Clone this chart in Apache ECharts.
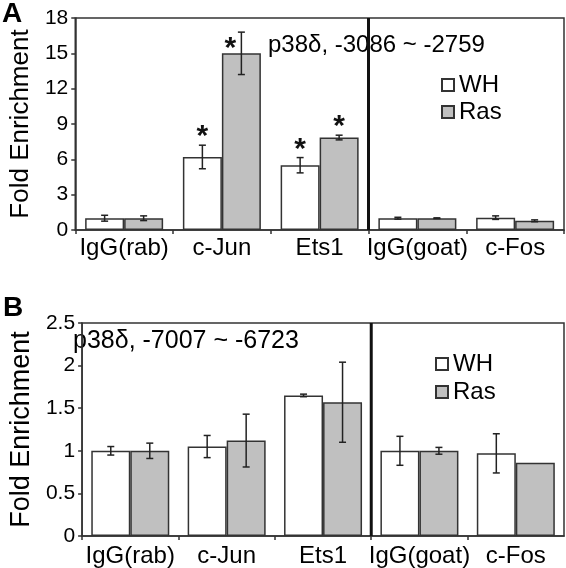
<!DOCTYPE html>
<html>
<head>
<meta charset="utf-8">
<script src="https://cdn.jsdelivr.net/npm/echarts@6/dist/echarts.min.js"></script>
<style>
html,body{margin:0;padding:0;background:#fff;}
#chart{width:566px;height:568px;}
</style>
</head>
<body>
<div id="chart"></div>
<script>
// ---- data ----
const categories = ['IgG(rab)', 'c-Jun', 'Ets1', 'IgG(goat)', 'c-Fos'];
const seriesNames = ['WH', 'Ras'];

// Panel A: p38δ, -3086 ~ -2759
const aWH     = [1.0, 6.2, 5.5, 1.0, 1.05];
const aWHErr  = [0.25, 1.0, 0.65, 0.08, 0.15];
const aRas    = [1.0, 15.0, 7.85, 1.0, 0.78];
const aRasErr = [0.2, 1.8, 0.2, 0.03, 0.08];
const aStarWH  = [false, true, true, false, false];
const aStarRas = [false, true, true, false, false];
const aTicks = { min: 0, max: 18, interval: 3 };

// Panel B: p38δ, -7007 ~ -6723
const bWH     = [1.0, 1.05, 1.65, 1.0, 0.97];
const bWHErr  = [0.05, 0.13, 0.015, 0.17, 0.23];
const bRas    = [1.0, 1.12, 1.57, 1.0, 0.86];
const bRasErr = [0.09, 0.31, 0.47, 0.04, 0];
const bStarWH  = [false, false, false, false, false];
const bStarRas = [false, false, false, false, false];
const bTicks = { min: 0, max: 2.5, interval: 0.5 };

const dividerAt = 3; // boundary between Ets1 and IgG(goat)
const titleA = 'p38\u03b4, -3086 ~ -2759';
const titleB = 'p38\u03b4, -7007 ~ -6723';

// ---- chart ----
const FONT = 'Liberation Sans, Arial, Helvetica, sans-serif';
const BAR_W = 39;
const chart = echarts.init(document.getElementById('chart'), null, { renderer: 'canvas' });

function errSeries(gridIdx, vals, errs, stars, side) {
  return {
    type: 'custom',
    xAxisIndex: gridIdx * 2,
    yAxisIndex: gridIdx,
    z: 5,
    silent: true,
    data: vals.map((v, i) => [i, v, errs[i], stars[i] ? 1 : 0]),
    renderItem: function (params, api) {
      const i = api.value(0), v = api.value(1), e = api.value(2), s = api.value(3);
      const c = api.coord([i, v]);
      const x = c[0] + side * BAR_W / 2;
      const top = api.coord([i, v + e])[1];
      const bot = api.coord([i, v - e])[1];
      const cap = 3.5;
      const children = [];
      const ls = { stroke: '#222', lineWidth: 1.5 };
      if (e > 0) {
        children.push({ type: 'line', shape: { x1: x, y1: top, x2: x, y2: bot }, style: ls });
        children.push({ type: 'line', shape: { x1: x - cap, y1: top, x2: x + cap, y2: top }, style: ls });
        children.push({ type: 'line', shape: { x1: x - cap, y1: bot, x2: x + cap, y2: bot }, style: ls });
      }
      if (s) {
        let sx = x, sy = top - 15;
        if (sy < params.coordSys.y + 14) { sx = x - 11; sy = top + 10; }
        children.push({ type: 'text', style: { text: '*', x: sx, y: sy + 7, fontSize: 30, fontWeight: 'bold', fontFamily: FONT, fill: '#111', align: 'center', verticalAlign: 'middle' } });
      }
      return { type: 'group', children: children };
    }
  };
}

function barSeries(gridIdx, name, vals, color) {
  return {
    name: name,
    type: 'bar',
    xAxisIndex: gridIdx * 2,
    yAxisIndex: gridIdx,
    data: vals,
    barWidth: BAR_W,
    barGap: '0%',
    itemStyle: { color: color, borderColor: '#333', borderWidth: 1.5 },
    silent: true
  };
}

function dividerSeries(gridIdx, ticks) {
  return {
    type: 'line',
    xAxisIndex: gridIdx * 2 + 1,
    yAxisIndex: gridIdx,
    data: [[dividerAt, ticks.min], [dividerAt, ticks.max]],
    symbol: 'none',
    silent: true,
    z: 10,
    lineStyle: { color: '#111', width: 3 }
  };
}

const grids = [
  { left: 62, top: 18, width: 502, height: 212 },
  { left: 62, top: 323, width: 502, height: 213 }
];

function catAxis(gridIdx) {
  return {
    type: 'category', gridIndex: gridIdx, data: categories,
    axisLine: { lineStyle: { color: '#333', width: 1.5 } },
    axisTick: { show: true, length: 4, lineStyle: { color: '#333', width: 1.5 } },
    axisLabel: { color: '#000', fontSize: 24, fontFamily: FONT, margin: gridIdx === 0 ? 6 : 8, interval: 0 }
  };
}
function hiddenAxis(gridIdx) {
  return { type: 'value', gridIndex: gridIdx, min: 0, max: categories.length, show: false };
}
function valAxis(gridIdx, ticks) {
  return {
    type: 'value', gridIndex: gridIdx, min: ticks.min, max: ticks.max, interval: ticks.interval,
    name: 'Fold Enrichment', nameLocation: 'middle', nameGap: gridIdx === 0 ? 34 : 36,
    nameTextStyle: { color: '#000', fontSize: gridIdx === 0 ? 26 : 27, fontFamily: FONT },
    axisLine: { show: true, lineStyle: { color: '#333', width: 1.5 } },
    axisTick: { show: true, length: 4, lineStyle: { color: '#333', width: 1.5 } },
    axisLabel: { color: '#000', fontSize: 21, fontFamily: FONT, margin: 7 },
    splitLine: { show: false }
  };
}

const option = {
  backgroundColor: '#fff',
  animation: false,
  grid: grids.map(g => Object.assign({ show: true, borderColor: '#333', borderWidth: 1.5, backgroundColor: 'transparent' }, g)),
  xAxis: [catAxis(0), hiddenAxis(0), catAxis(1), hiddenAxis(1)],
  yAxis: [valAxis(0, aTicks), valAxis(1, bTicks)],
  legend: [
    { left: 436, top: 68, orient: 'vertical', itemWidth: 12, itemHeight: 12, itemGap: 3, icon: 'rect',
      selectedMode: false, data: seriesNames, textStyle: { color: '#000', fontSize: 24, fontFamily: FONT } },
    { left: 430, top: 347, orient: 'vertical', itemWidth: 12, itemHeight: 12, itemGap: 4, icon: 'rect',
      selectedMode: false, data: seriesNames, textStyle: { color: '#000', fontSize: 24, fontFamily: FONT } }
  ],
  graphic: [
    { type: 'text', left: 2, top: 0, style: { text: 'A', fontSize: 28, fontWeight: 'bold', fontFamily: FONT, fill: '#000' } },
    { type: 'text', left: 3, top: 294, style: { text: 'B', fontSize: 28, fontWeight: 'bold', fontFamily: FONT, fill: '#000' } },
    { type: 'text', left: 268, top: 33, style: { text: titleA, fontSize: 24, fontFamily: FONT, fill: '#000' } },
    { type: 'text', left: 73, top: 329, style: { text: titleB, fontSize: 25, fontFamily: FONT, fill: '#000' } }
  ],
  series: [
    barSeries(0, seriesNames[0], aWH, '#ffffff'),
    barSeries(0, seriesNames[1], aRas, '#c0c0c0'),
    errSeries(0, aWH, aWHErr, aStarWH, -1),
    errSeries(0, aRas, aRasErr, aStarRas, 1),
    dividerSeries(0, aTicks),
    barSeries(1, seriesNames[0], bWH, '#ffffff'),
    barSeries(1, seriesNames[1], bRas, '#c0c0c0'),
    errSeries(1, bWH, bWHErr, bStarWH, -1),
    errSeries(1, bRas, bRasErr, bStarRas, 1),
    dividerSeries(1, bTicks)
  ]
};
chart.setOption(option);
</script>
</body>
</html>
